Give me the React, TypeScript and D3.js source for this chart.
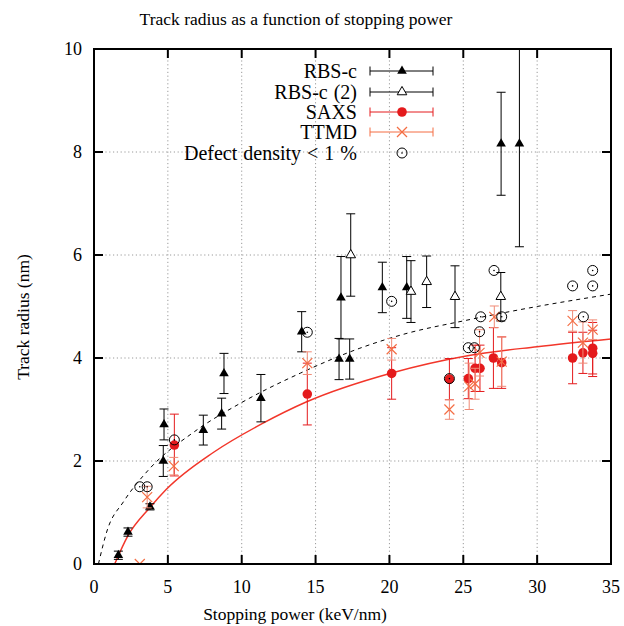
import React from "react";
import * as d3 from "d3";

// ---------- data ----------
const rbsX = [1.65, 2.3, 3.79, 4.69, 4.74, 7.4, 8.64, 8.8, 11.3, 14.06, 16.59, 17.31, 16.72, 19.52, 21.17, 27.56, 28.8];
const rbsY = [0.17, 0.62, 1.11, 2.0, 2.71, 2.6, 2.92, 3.7, 3.22, 4.51, 3.98, 3.98, 5.17, 5.37, 5.37, 8.16, 8.16];
const rbsErr = [0.08, 0.08, 0.06, 0.3, 0.3, 0.29, 0.3, 0.39, 0.46, 0.39, 0.4, 0.39, 0.8, 0.49, 0.6, 1.0, 2.0];

const rbs2X = [17.38, 21.46, 22.52, 24.44, 27.54];
const rbs2Y = [6.0, 5.29, 5.48, 5.19, 5.19];
const rbs2Err = [0.8, 0.6, 0.5, 0.6, 0.47];

const saxsX = [5.44, 14.44, 20.15, 24.06, 25.34, 25.8, 26.13, 27.04, 27.6, 32.4, 33.1, 33.76, 33.76];
const saxsY = [2.31, 3.3, 3.7, 3.59, 3.6, 3.8, 3.8, 4.0, 3.91, 4.0, 4.1, 4.19, 4.09];
const saxsErr = [0.6, 0.6, 0.5, 0.4, 0.39, 0.45, 0.45, 0.59, 0.5, 0.5, 0.4, 0.5, 0.45];

const ttmdX = [3.1, 3.6, 5.4, 14.44, 20.15, 24.06, 25.4, 25.8, 26.1, 27.1, 27.6, 32.4, 33.1, 33.76];
const ttmdY = [0.0, 1.3, 1.9, 3.9, 4.17, 3.0, 3.45, 3.5, 4.1, 4.8, 3.93, 4.72, 4.3, 4.55];
const ttmdErr = [0.0, 0.21, 0.17, 0.22, 0.21, 0.19, 0.45, 0.3, 0.45, 0.21, 0.48, 0.2, 0.4, 0.19];

const defX = [3.1, 3.6, 5.44, 14.44, 20.15, 24.06, 25.34, 25.75, 26.1, 26.18, 27.08, 27.6, 32.4, 33.13, 33.76, 33.76];
const defY = [1.5, 1.5, 2.41, 4.5, 5.1, 3.6, 4.2, 4.2, 4.51, 4.8, 5.7, 4.8, 5.4, 4.8, 5.7, 5.4];

// fit curves
const fitBlackX = [0.3, 0.9, 2.0, 3.7, 6.8, 9.9, 14.0, 18.0, 21.2, 25.0, 30.0, 35.0];
const fitBlackY = [0.0, 0.66, 1.21, 1.83, 2.57, 3.12, 3.71, 4.19, 4.48, 4.72, 5.0, 5.24];
const fitRedX = [1.4, 2.3, 3.8, 4.9, 8.1, 11.35, 14.4, 20.15, 25.2, 30.0, 35.0];
const fitRedY = [0.0, 0.55, 1.1, 1.45, 2.17, 2.72, 3.15, 3.71, 4.04, 4.22, 4.37];

const xTicks = [0, 5, 10, 15, 20, 25, 30, 35];
const yTicks = [0, 2, 4, 6, 8, 10];

const legendLabels = ["RBS-c", "RBS-c (2)", "SAXS", "TTMD", "Defect density < 1 %"];

// ---------- styles ----------
const FONT = "'Liberation Serif', 'Times New Roman', serif";
const FS = 17.5;
const FS_LEG = 20;
const BLACK = "#000";
const SAXS_C = "#e41a1c";
const TTMD_C = "#f46d43";
const TTMD_BAR = "#f08a76";
const FIT_RED = "#f2362a";

const L = 94, R = 611, T = 49, B = 564;

export default function App() {
  const x = d3.scaleLinear().domain([0, 35]).range([L, R]);
  const y = d3.scaleLinear().domain([0, 10]).range([B, T]);
  const tri = d3.symbol().type(d3.symbolTriangle).size(40)() as string;
  const line = d3.line<[number, number]>().x(d => x(d[0])).y(d => y(d[1])).curve(d3.curveMonotoneX);
  const blackPts = fitBlackX.map((v, i) => [v, fitBlackY[i]] as [number, number]);
  const redPts = fitRedX.map((v, i) => [v, fitRedY[i]] as [number, number]);

  const cap = 4.5;
  const errBar = (cx: number, yv: number, e: number, color: string, key: string) => {
    if (e <= 0) return null;
    const y1 = Math.max(y(yv + e), T);
    const y2 = y(yv - e);
    const topIn = y(yv + e) >= T;
    return (
      <g key={key} stroke={color} strokeWidth={1}>
        <line x1={cx} x2={cx} y1={y1} y2={y2} />
        {topIn && <line x1={cx - cap} x2={cx + cap} y1={y1} y2={y1} />}
        <line x1={cx - cap} x2={cx + cap} y1={y2} y2={y2} />
      </g>
    );
  };
  const xMark = (cx: number, cy: number, color: string, key: string) => (
    <g key={key} stroke={color} strokeWidth={1.2}>
      <line x1={cx - 5} x2={cx + 5} y1={cy - 5} y2={cy + 5} />
      <line x1={cx - 5} x2={cx + 5} y1={cy + 5} y2={cy - 5} />
    </g>
  );
  const defMark = (cx: number, cy: number, key: string) => (
    <g key={key}>
      <circle cx={cx} cy={cy} r={5} fill="none" stroke={BLACK} strokeWidth={1} />
      <circle cx={cx} cy={cy} r={0.8} fill={BLACK} />
    </g>
  );

  // legend
  const legTextX = 357;
  const legY = [71, 92, 112, 132, 153];
  const lx1 = 370, lx2 = 433, lmid = 402;

  return (
    <svg width={624} height={626} style={{ position: "absolute", left: 0, top: 0, background: "#fff" }} fontFamily={FONT}>
      <rect x={0} y={0} width={624} height={626} fill="#fff" />
      <defs>
        <clipPath id="plotclip">
          <rect x={L} y={T} width={R - L} height={B - T} />
        </clipPath>
      </defs>
      {/* grid */}
      <g stroke="#9a9a9a" strokeWidth={1} strokeDasharray="1.2,2.6">
        {xTicks.slice(1, -1).map(t => (
          <line key={"gx" + t} x1={x(t)} x2={x(t)} y1={T} y2={B} />
        ))}
        {yTicks.slice(1, -1).map(t => (
          <line key={"gy" + t} x1={L} x2={R} y1={y(t)} y2={y(t)} />
        ))}
      </g>
      {/* title and labels */}
      <text x={296} y={25} textAnchor="middle" fontSize={FS}>Track radius as a function of stopping power</text>
      <text x={295} y={620} textAnchor="middle" fontSize={FS}>Stopping power (keV/nm)</text>
      <text transform="translate(29,317) rotate(-90)" textAnchor="middle" fontSize={FS}>Track radius (nm)</text>
      {xTicks.map(t => (
        <text key={"xt" + t} x={x(t)} y={593} textAnchor="middle" fontSize={18}>{t}</text>
      ))}
      {yTicks.map(t => (
        <text key={"yt" + t} x={82} y={y(t) + 6} textAnchor="end" fontSize={18}>{t}</text>
      ))}
      {/* legend */}
      {legendLabels.map((lab, i) => (
        <text key={"lt" + i} x={legTextX} y={legY[i] + 6.5} textAnchor="end" fontSize={FS_LEG} wordSpacing={1}>{lab}</text>
      ))}
      {[BLACK, BLACK, SAXS_C, TTMD_C].map((c, i) => (
        <g key={"ll" + i} stroke={c} strokeWidth={1}>
          <line x1={lx1} x2={lx2} y1={legY[i]} y2={legY[i]} />
          <line x1={lx1} x2={lx1} y1={legY[i] - cap} y2={legY[i] + cap} />
          <line x1={lx2} x2={lx2} y1={legY[i] - cap} y2={legY[i] + cap} />
        </g>
      ))}
      <path d={tri} transform={`translate(${lmid},${legY[0]})`} fill={BLACK} />
      <path d={tri} transform={`translate(${lmid},${legY[1]})`} fill="#fff" stroke={BLACK} strokeWidth={1} />
      <circle cx={lmid} cy={legY[2]} r={4.8} fill={SAXS_C} />
      {xMark(lmid, legY[3], TTMD_C, "legx")}
      {defMark(lmid, legY[4], "legd")}

      <g clipPath="url(#plotclip)">
        {/* fits */}
        <path d={line(blackPts) as string} fill="none" stroke={BLACK} strokeWidth={1} strokeDasharray="4,4" />
        <path d={line(redPts) as string} fill="none" stroke={FIT_RED} strokeWidth={1.5} />
        {/* RBS-c */}
        {rbsX.map((v, i) => errBar(x(v), rbsY[i], rbsErr[i], BLACK, "rbe" + i))}
        {rbsX.map((v, i) => (
          <path key={"rb" + i} d={tri} transform={`translate(${x(v)},${y(rbsY[i])})`} fill={BLACK} />
        ))}
        {/* RBS-c (2) */}
        {rbs2X.map((v, i) => errBar(x(v), rbs2Y[i], rbs2Err[i], BLACK, "r2e" + i))}
        {rbs2X.map((v, i) => (
          <path key={"r2" + i} d={tri} transform={`translate(${x(v)},${y(rbs2Y[i])})`} fill="#fff" stroke={BLACK} strokeWidth={1} />
        ))}
        {/* SAXS */}
        {saxsX.map((v, i) => errBar(x(v), saxsY[i], saxsErr[i], SAXS_C, "se" + i))}
        {saxsX.map((v, i) => (
          <circle key={"s" + i} cx={x(v)} cy={y(saxsY[i])} r={4.8} fill={SAXS_C} />
        ))}
        {/* TTMD */}
        {ttmdX.map((v, i) => errBar(x(v), ttmdY[i], ttmdErr[i], TTMD_BAR, "te" + i))}
        {ttmdX.map((v, i) => xMark(x(v), y(ttmdY[i]), TTMD_C, "t" + i))}
        {/* Defect density */}
        {defX.map((v, i) => defMark(x(v), y(defY[i]), "d" + i))}
      </g>
      {/* ticks */}
      <g stroke={BLACK} strokeWidth={2}>
        {xTicks.slice(1, -1).map(t => (
          <g key={"tk" + t}>
            <line x1={x(t)} x2={x(t)} y1={B} y2={B - 9} />
            <line x1={x(t)} x2={x(t)} y1={T} y2={T + 9} />
          </g>
        ))}
        {yTicks.slice(1, -1).map(t => (
          <g key={"tky" + t}>
            <line x1={L} x2={L + 9} y1={y(t)} y2={y(t)} />
            <line x1={R} x2={R - 9} y1={y(t)} y2={y(t)} />
          </g>
        ))}
      </g>
      <rect x={L} y={T} width={R - L} height={B - T} fill="none" stroke={BLACK} strokeWidth={2} />
    </svg>
  );
}
